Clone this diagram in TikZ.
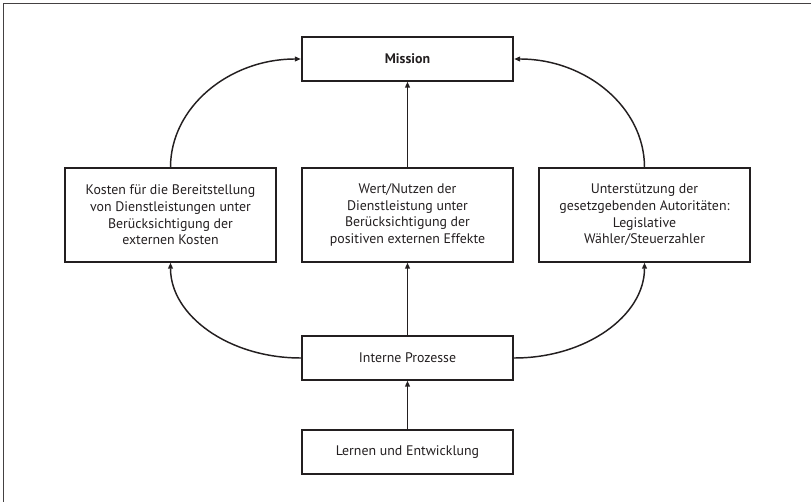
\documentclass[tikz,border=0pt]{standalone}
\usepackage{fontspec}
\setmainfont{PT Sans}
\usetikzlibrary{arrows.meta}
\definecolor{ink}{HTML}{231F20}
\begin{document}
\begin{tikzpicture}[x=0.75pt,y=-0.75pt,
  box/.style={draw=ink,line width=1.5pt,inner sep=0pt,minimum width=158.5pt,align=center,text=ink,
    font=\fontsize{10.4}{12.5}\selectfont},
  lowbox/.style={box,minimum height=32.5pt},
  highbox/.style={box,minimum height=70pt},
  arr/.style={draw=ink,line width=1.1pt,-{Triangle[length=4.5pt,width=3.6pt]}}]
\useasboundingbox (0,0) rectangle (811,502);
\draw[ink!85,line width=1pt] (3.5,502) -- (3.5,3.5) -- (811,3.5);
\node[lowbox,font=\fontsize{10.4}{12.5}\selectfont\bfseries] (mission) at (407.5,59) {Mission};
\node[highbox] (cost) at (170.5,215) {Kosten für die Bereitstellung\\von Dienstleistungen unter\\Berücksichtigung der\\externen Kosten};
\node[highbox] (value) at (407.5,215) {Wert/Nutzen der\\Dienstleistung unter\\Berücksichtigung der\\positiven externen Effekte};
\node[highbox] (support) at (644.5,215) {Unterstützung der\\gesetzgebenden Autoritäten:\\Legislative\\Wähler/Steuerzahler};
\node[lowbox] (intern) at (407.5,358) {Interne Prozesse};
\node[lowbox] (learn) at (407.5,452) {Lernen und Entwicklung};
\draw[arr] (value) -- (mission);
\draw[arr] (intern) -- (value);
\draw[arr] (learn) -- (intern);
\draw[arr] (cost.north) .. controls +(0,-60) and +(-72,0) .. (mission.west);
\draw[arr] (support.north) .. controls +(0,-60) and +(72,0) .. (mission.east);
\draw[arr] (intern.west) .. controls +(-72,0) and +(0,53) .. (cost.south);
\draw[arr] (intern.east) .. controls +(72,0) and +(0,53) .. (support.south);
\end{tikzpicture}
\end{document}
